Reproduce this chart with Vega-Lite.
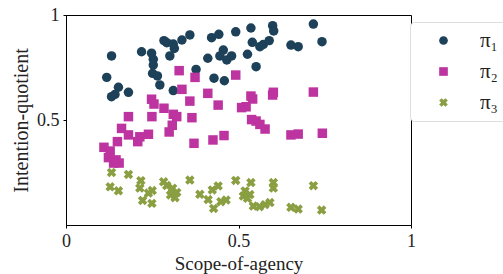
{
  "$schema": "https://vega.github.io/schema/vega-lite/v6.json",
  "width": 345,
  "height": 210,
  "autosize": "none",
  "padding": {"left": 66, "top": 15, "right": 92, "bottom": 49},
  "config": {
    "font": "Liberation Serif",
    "view": {"stroke": "#000", "strokeWidth": 1}
  },
  "data": {
    "values": [
      {"x": 0.132, "y": 0.805, "s": "π₁"}, {"x": 0.219, "y": 0.825, "s": "π₁"}, {"x": 0.248, "y": 0.818, "s": "π₁"},
      {"x": 0.253, "y": 0.789, "s": "π₁"}, {"x": 0.253, "y": 0.762, "s": "π₁"}, {"x": 0.251, "y": 0.722, "s": "π₁"},
      {"x": 0.265, "y": 0.71, "s": "π₁"}, {"x": 0.272, "y": 0.667, "s": "π₁"}, {"x": 0.118, "y": 0.703, "s": "π₁"},
      {"x": 0.152, "y": 0.656, "s": "π₁"}, {"x": 0.142, "y": 0.622, "s": "π₁"}, {"x": 0.132, "y": 0.611, "s": "π₁"},
      {"x": 0.181, "y": 0.632, "s": "π₁"}, {"x": 0.284, "y": 0.878, "s": "π₁"}, {"x": 0.292, "y": 0.868, "s": "π₁"},
      {"x": 0.311, "y": 0.862, "s": "π₁"}, {"x": 0.314, "y": 0.841, "s": "π₁"}, {"x": 0.301, "y": 0.805, "s": "π₁"},
      {"x": 0.336, "y": 0.881, "s": "π₁"}, {"x": 0.359, "y": 0.905, "s": "π₁"}, {"x": 0.311, "y": 0.64, "s": "π₁"},
      {"x": 0.377, "y": 0.741, "s": "π₁"}, {"x": 0.411, "y": 0.794, "s": "π₁"}, {"x": 0.422, "y": 0.892, "s": "π₁"},
      {"x": 0.443, "y": 0.908, "s": "π₁"}, {"x": 0.456, "y": 0.833, "s": "π₁"}, {"x": 0.446, "y": 0.805, "s": "π₁"},
      {"x": 0.466, "y": 0.786, "s": "π₁"}, {"x": 0.48, "y": 0.805, "s": "π₁"}, {"x": 0.492, "y": 0.92, "s": "π₁"},
      {"x": 0.429, "y": 0.699, "s": "π₁"}, {"x": 0.459, "y": 0.687, "s": "π₁"}, {"x": 0.536, "y": 0.938, "s": "π₁"},
      {"x": 0.599, "y": 0.949, "s": "π₁"}, {"x": 0.602, "y": 0.924, "s": "π₁"}, {"x": 0.717, "y": 0.957, "s": "π₁"},
      {"x": 0.54, "y": 0.87, "s": "π₁"}, {"x": 0.562, "y": 0.849, "s": "π₁"}, {"x": 0.572, "y": 0.86, "s": "π₁"},
      {"x": 0.589, "y": 0.878, "s": "π₁"}, {"x": 0.652, "y": 0.857, "s": "π₁"}, {"x": 0.673, "y": 0.849, "s": "π₁"},
      {"x": 0.742, "y": 0.873, "s": "π₁"}, {"x": 0.526, "y": 0.813, "s": "π₁"}, {"x": 0.551, "y": 0.754, "s": "π₁"},

      {"x": 0.328, "y": 0.735, "s": "π₂"}, {"x": 0.374, "y": 0.703, "s": "π₂"}, {"x": 0.336, "y": 0.646, "s": "π₂"},
      {"x": 0.411, "y": 0.627, "s": "π₂"}, {"x": 0.492, "y": 0.714, "s": "π₂"}, {"x": 0.248, "y": 0.599, "s": "π₂"},
      {"x": 0.255, "y": 0.576, "s": "π₂"}, {"x": 0.284, "y": 0.556, "s": "π₂"}, {"x": 0.359, "y": 0.59, "s": "π₂"},
      {"x": 0.441, "y": 0.571, "s": "π₂"}, {"x": 0.509, "y": 0.559, "s": "π₂"}, {"x": 0.522, "y": 0.563, "s": "π₂"},
      {"x": 0.181, "y": 0.516, "s": "π₂"}, {"x": 0.249, "y": 0.516, "s": "π₂"}, {"x": 0.311, "y": 0.527, "s": "π₂"},
      {"x": 0.321, "y": 0.516, "s": "π₂"}, {"x": 0.365, "y": 0.511, "s": "π₂"}, {"x": 0.161, "y": 0.46, "s": "π₂"},
      {"x": 0.181, "y": 0.429, "s": "π₂"}, {"x": 0.214, "y": 0.42, "s": "π₂"}, {"x": 0.208, "y": 0.397, "s": "π₂"},
      {"x": 0.239, "y": 0.432, "s": "π₂"}, {"x": 0.308, "y": 0.475, "s": "π₂"}, {"x": 0.299, "y": 0.443, "s": "π₂"},
      {"x": 0.371, "y": 0.389, "s": "π₂"}, {"x": 0.426, "y": 0.405, "s": "π₂"}, {"x": 0.458, "y": 0.426, "s": "π₂"},
      {"x": 0.149, "y": 0.397, "s": "π₂"}, {"x": 0.11, "y": 0.37, "s": "π₂"}, {"x": 0.128, "y": 0.352, "s": "π₂"},
      {"x": 0.123, "y": 0.321, "s": "π₂"}, {"x": 0.145, "y": 0.31, "s": "π₂"}, {"x": 0.154, "y": 0.295, "s": "π₂"},
      {"x": 0.138, "y": 0.295, "s": "π₂"}, {"x": 0.536, "y": 0.614, "s": "π₂"}, {"x": 0.541, "y": 0.6, "s": "π₂"},
      {"x": 0.601, "y": 0.632, "s": "π₂"}, {"x": 0.599, "y": 0.619, "s": "π₂"}, {"x": 0.717, "y": 0.633, "s": "π₂"},
      {"x": 0.538, "y": 0.502, "s": "π₂"}, {"x": 0.551, "y": 0.495, "s": "π₂"}, {"x": 0.562, "y": 0.479, "s": "π₂"},
      {"x": 0.577, "y": 0.457, "s": "π₂"}, {"x": 0.652, "y": 0.429, "s": "π₂"}, {"x": 0.673, "y": 0.433, "s": "π₂"},
      {"x": 0.743, "y": 0.437, "s": "π₂"},

      {"x": 0.132, "y": 0.25, "s": "π₃"}, {"x": 0.181, "y": 0.241, "s": "π₃"}, {"x": 0.128, "y": 0.182, "s": "π₃"},
      {"x": 0.152, "y": 0.163, "s": "π₃"}, {"x": 0.217, "y": 0.211, "s": "π₃"}, {"x": 0.214, "y": 0.176, "s": "π₃"},
      {"x": 0.222, "y": 0.117, "s": "π₃"}, {"x": 0.239, "y": 0.152, "s": "π₃"}, {"x": 0.25, "y": 0.164, "s": "π₃"},
      {"x": 0.249, "y": 0.103, "s": "π₃"}, {"x": 0.283, "y": 0.206, "s": "π₃"}, {"x": 0.292, "y": 0.188, "s": "π₃"},
      {"x": 0.309, "y": 0.175, "s": "π₃"}, {"x": 0.303, "y": 0.143, "s": "π₃"}, {"x": 0.321, "y": 0.155, "s": "π₃"},
      {"x": 0.316, "y": 0.13, "s": "π₃"}, {"x": 0.359, "y": 0.214, "s": "π₃"}, {"x": 0.388, "y": 0.146, "s": "π₃"},
      {"x": 0.412, "y": 0.121, "s": "π₃"}, {"x": 0.424, "y": 0.167, "s": "π₃"}, {"x": 0.441, "y": 0.186, "s": "π₃"},
      {"x": 0.428, "y": 0.079, "s": "π₃"}, {"x": 0.449, "y": 0.111, "s": "π₃"}, {"x": 0.464, "y": 0.119, "s": "π₃"},
      {"x": 0.492, "y": 0.212, "s": "π₃"}, {"x": 0.536, "y": 0.202, "s": "π₃"}, {"x": 0.601, "y": 0.202, "s": "π₃"},
      {"x": 0.601, "y": 0.176, "s": "π₃"}, {"x": 0.717, "y": 0.187, "s": "π₃"}, {"x": 0.519, "y": 0.162, "s": "π₃"},
      {"x": 0.514, "y": 0.138, "s": "π₃"}, {"x": 0.533, "y": 0.145, "s": "π₃"}, {"x": 0.526, "y": 0.127, "s": "π₃"},
      {"x": 0.543, "y": 0.09, "s": "π₃"}, {"x": 0.561, "y": 0.087, "s": "π₃"}, {"x": 0.577, "y": 0.097, "s": "π₃"},
      {"x": 0.591, "y": 0.107, "s": "π₃"}, {"x": 0.652, "y": 0.084, "s": "π₃"}, {"x": 0.673, "y": 0.076, "s": "π₃"},
      {"x": 0.741, "y": 0.071, "s": "π₃"}
    ]
  },
  "mark": {"type": "point", "filled": true, "opacity": 1, "size": 90},
  "encoding": {
    "x": {
      "field": "x", "type": "quantitative",
      "scale": {"domain": [0, 1], "nice": false, "zero": false},
      "axis": {
        "title": "Scope-of-agency", "values": [0, 0.5, 1], "format": "~g",
        "grid": false, "domainColor": "#000", "tickColor": "#000", "tickSize": 3,
        "labelFlush": false,
        "labelFontSize": 18, "labelColor": "#222", "labelPadding": 4,
        "titleFontSize": 19, "titleFontWeight": "normal", "titleColor": "#222", "titlePadding": 4
      }
    },
    "y": {
      "field": "y", "type": "quantitative",
      "scale": {"domain": [0, 1], "nice": false, "zero": false},
      "axis": {
        "title": "Intention-quotient", "values": [0.5, 1], "format": "~g",
        "grid": false, "domainColor": "#000", "tickColor": "#000", "tickSize": 3,
        "labelFlush": false,
        "labelFontSize": 18, "labelColor": "#222", "labelPadding": 4,
        "titleFontSize": 20, "titleFontWeight": "normal", "titleColor": "#222", "titlePadding": 5
      }
    },
    "color": {
      "field": "s", "type": "nominal",
      "scale": {"domain": ["π₁", "π₂", "π₃"], "range": ["#1c4158", "#bd34a0", "#8a9e42"]},
      "legend": {
        "title": null, "orient": "none", "legendX": 344, "legendY": 7,
        "fillColor": "#fff", "strokeColor": "#ddd", "cornerRadius": 4,
        "padding": 8, "symbolSize": 75, "labelFontSize": 21, "labelColor": "#222",
        "labelOffset": 26, "rowPadding": 9, "symbolOffset": 15
      }
    },
    "shape": {
      "field": "s", "type": "nominal",
      "scale": {"domain": ["π₁", "π₂", "π₃"], "range": ["circle", "square", "M-1,-0.45L-0.45,-1L0,-0.55L0.45,-1L1,-0.45L0.55,0L1,0.45L0.45,1L0,0.55L-0.45,1L-1,0.45L-0.55,0Z"]}
    }
  }
}
